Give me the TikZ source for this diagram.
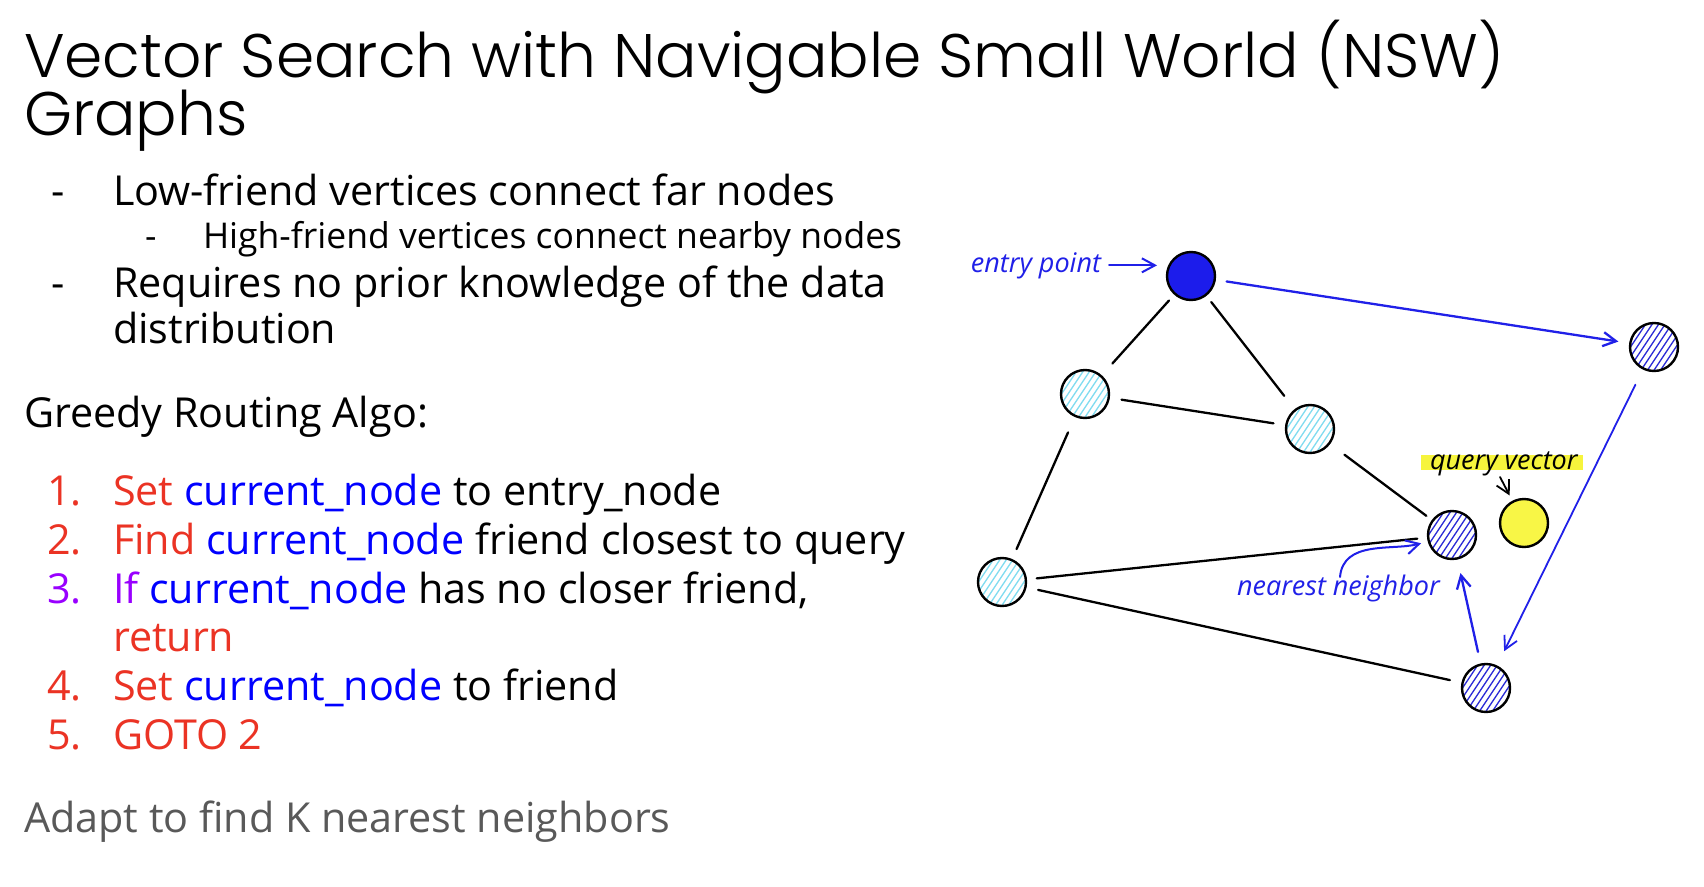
\documentclass[tikz,border=0pt]{standalone}
\usepackage{fontspec}
\setmainfont{Open Sans}
\newfontfamily\titlefont{Poppins Light}
\newfontfamily\handfont{Open Sans}
\usetikzlibrary{arrows.meta}

\definecolor{algred}{RGB}{235,51,36}
\definecolor{algblue}{RGB}{0,0,255}
\definecolor{algpurple}{RGB}{153,0,255}
\definecolor{notegray}{RGB}{89,89,89}
\definecolor{inkblue}{RGB}{32,32,232}
\definecolor{entryblue}{RGB}{28,28,235}
\definecolor{hatchblue}{RGB}{45,45,215}
\definecolor{hatchcyan}{RGB}{130,220,240}
\definecolor{queryyellow}{RGB}{248,246,70}
\definecolor{marker}{RGB}{246,244,60}

\tikzset{
  txt/.style={inner sep=0pt, outer sep=0pt, anchor=base west, font=\fontsize{41.3}{49}\selectfont},
  subtxt/.style={txt, font=\fontsize{35.5}{42}\selectfont},
  titletxt/.style={inner sep=0pt, outer sep=0pt, anchor=base west, font=\titlefont\fontsize{61.5}{72}\selectfont},
  hand/.style={inner sep=0pt, outer sep=0pt, font=\handfont\itshape\fontsize{27}{32}\selectfont},
  vert/.style={circle, minimum size=48pt, inner sep=0pt, outer sep=0pt, line width=2.4pt, draw=black},
  hatched/.style={vert, path picture={
      \foreach \k in {-56,-49.5,...,56}
        \draw[line width=1.3pt, #1]
          ([shift={(\k-20,-30)}]path picture bounding box.center) -- ++(40,60);}},
  edge/.style={line width=2.3pt, black, line cap=round},
  tip/.style={-{Straight Barb[length=13pt,width=14pt]}},
  bluearrow/.style={tip, line width=2.3pt, inkblue, line cap=round},
}

\begin{document}
\begin{tikzpicture}[x=1pt, y=1pt]
  \useasboundingbox (0,0) rectangle (1704,-886);
  \fill[white] (0,0) rectangle (1704,-886);

  % ---------- title ----------
  \node[titletxt] (t1) at (24,-77) {Vector Search with Navigable Small World (NSW)};
  \node[titletxt] (t2) at (24,-135) {Graphs};

  % ---------- bullets ----------
  \node[txt] (d1) at (51,-205) {-};
  \node[txt] (b1) at (113,-205) {Low-friend vertices connect far nodes};
  \node[subtxt] (d1a) at (145,-248) {-};
  \node[subtxt] (b1a) at (203,-248) {High-friend vertices connect nearby nodes};
  \node[txt] (d2) at (51,-297) {-};
  \node[txt] (b2) at (113,-297) {Requires no prior knowledge of the data};
  \node[txt] (b2b) at (113,-343) {distribution};

  \node[txt] (algo) at (24,-427) {Greedy Routing Algo:};

  % ---------- numbered steps ----------
  \node[txt, text=algred] (n1) at (47,-505) {1.};
  \node[txt] (s1) at (113,-505) {{\color{algred}Set} {\color{algblue}current\_node} to entry\_node};
  \node[txt, text=algred] (n2) at (47,-554) {2.};
  \node[txt] (s2) at (113,-554) {{\color{algred}Find} {\color{algblue}current\_node} friend closest to query};
  \node[txt, text=algpurple] (n3) at (47,-603) {3.};
  \node[txt] (s3) at (113,-603) {{\color{algpurple}If} {\color{algblue}current\_node} has no closer friend,};
  \node[txt, text=algred] (s3b) at (113,-651) {return};
  \node[txt, text=algred] (n4) at (47,-700) {4.};
  \node[txt] (s4) at (113,-700) {{\color{algred}Set} {\color{algblue}current\_node} to friend};
  \node[txt, text=algred] (n5) at (47,-749) {5.};
  \node[txt, text=algred] (s5) at (113,-749) {GOTO 2};

  \node[txt, text=notegray] (adapt) at (24,-832) {Adapt to find K nearest neighbors};

  % ---------- graph vertices ----------
  \node[vert, fill=entryblue] (entry) at (1191,-276) {};
  \node[hatched=hatchblue, fill=white] (tr) at (1654,-347) {};
  \node[hatched=hatchcyan, fill=white] (lm) at (1085,-394) {};
  \node[hatched=hatchcyan, fill=white] (mid) at (1310,-429) {};
  \node[hatched=hatchblue, fill=white] (nn) at (1452,-535) {};
  \node[vert, fill=queryyellow] (query) at (1524,-523) {};
  \node[hatched=hatchcyan, fill=white] (bl) at (1002,-582) {};
  \node[hatched=hatchblue, fill=white] (bot) at (1486,-688) {};

  % ---------- undirected friendships ----------
  \draw[edge, shorten <=9pt, shorten >=17pt] (entry) -- (lm);
  \draw[edge, shorten <=9pt, shorten >=18pt] (entry) -- (mid);
  \draw[edge, shorten <=13pt, shorten >=13pt] (lm) -- (mid);
  \draw[edge, shorten <=18pt, shorten >=12pt] (lm) -- (bl);
  \draw[edge, shorten <=19pt, shorten >=8pt] (mid) -- (nn);
  \draw[edge, shorten <=11pt, shorten >=11pt] (bl) -- (nn);
  \draw[edge, shorten <=13pt, shorten >=13pt] (bl) -- (bot);

  % ---------- greedy route ----------
  \draw[bluearrow, shorten <=12pt, shorten >=12pt] (entry) -- (tr);
  \draw[bluearrow, line width=1.8pt, shorten <=18pt, shorten >=17pt] (tr) -- (bot);
  \draw[bluearrow, shorten <=13pt, shorten >=15pt] (bot) -- (nn);

  % ---------- annotations ----------
  \node[hand, anchor=base east, text=inkblue] (eplabel) at (1101,-272) {entry point};
  \draw[bluearrow, line width=2pt, shorten <=8pt, shorten >=10pt] (eplabel.east) -- (eplabel.east -| entry.west);

  \fill[marker] (1421,-455) rectangle (1583,-470);
  \node[hand, anchor=base west, text=black] (qlabel) at (1430,-469) {query vector};
  \coordinate (qstart) at (1500,-477);
  \draw[tip, line width=1.8pt, black, line cap=round, shorten >=7pt] (qstart) -- (query);

  \node[hand, anchor=base west, text=inkblue] (nnlabel) at (1237,-595) {nearest neighbor};
  \coordinate (nnstart) at (1340,-577);
  \draw[bluearrow, line width=2pt, shorten >=8pt] (nnstart) to[out=85, in=195] (nn);
\end{tikzpicture}
\end{document}
